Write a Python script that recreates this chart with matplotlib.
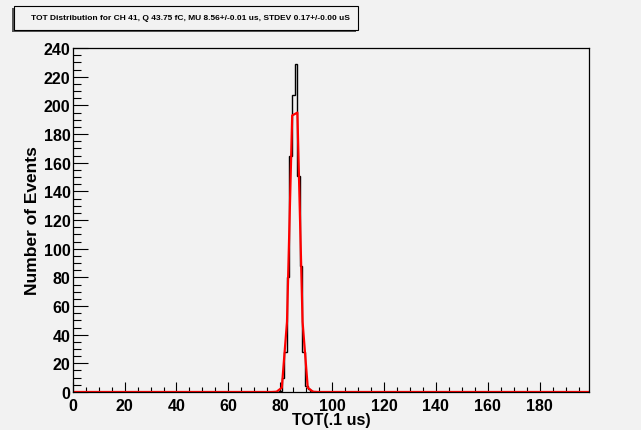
import numpy as np
import matplotlib.pyplot as plt
from matplotlib.patches import Rectangle
from matplotlib.ticker import MultipleLocator

# Histogram contents (bins centred on integer TOT values, 0..199)
peak_bins = [79, 80, 81, 82, 83, 84, 85, 86, 87, 88, 89, 90, 91, 92, 93]
peak_counts = [0, 1, 10, 28, 80, 165, 207, 229, 151, 88, 28, 4, 2, 1, 0]

# Fit curve as drawn (sampled points)
fit_x = [0.6, 76.6, 78.6, 80.6, 82.6, 84.6, 86.6, 88.6, 90.6, 92.6, 94.6, 198.6]
fit_y = [0, 0, 0.2, 3, 49, 193, 195, 49, 3, 0.2, 0, 0]

title = "TOT Distribution for CH 41, Q 43.75 fC, MU 8.56+/-0.01 us, STDEV 0.17+/-0.00 uS"
bg = '#f2f2f2'

counts = np.zeros(200)
counts[peak_bins] = peak_counts
edges = np.arange(201) - 0.5

fig = plt.figure(figsize=(6.41, 4.31), dpi=100, facecolor=bg)
ax = fig.add_axes([0.1134, 0.0882, 0.8055, 0.7978], facecolor=bg)

ax.stairs(counts, edges, color='black', linewidth=1.0)
ax.plot(fit_x, fit_y, color='red', linewidth=1.6)

ax.set_xlim(0, 199)
ax.set_ylim(0, 240)

ax.xaxis.set_major_locator(MultipleLocator(20))
ax.xaxis.set_minor_locator(MultipleLocator(5))
ax.yaxis.set_major_locator(MultipleLocator(20))
ax.yaxis.set_minor_locator(MultipleLocator(5))
ax.tick_params(which='both', direction='in', top=False, right=False, width=0.8)
ax.tick_params(axis='x', which='major', length=7.5, pad=4)
ax.tick_params(axis='x', which='minor', length=3.8)
ax.tick_params(axis='y', which='major', length=11, pad=1.5)
ax.tick_params(axis='y', which='minor', length=5.5)
for lab in ax.get_xticklabels() + ax.get_yticklabels():
    lab.set_fontweight('bold')
    lab.set_fontsize(11.5)
    lab.set_family('Liberation Sans')
for s in ax.spines.values():
    s.set_linewidth(0.9)

ax.set_xlabel('TOT(.1 us)', fontsize=11.5, fontweight='bold', family='Liberation Sans', labelpad=-0.5)
ax.set_ylabel('Number of Events', fontsize=12.5, fontweight='bold', family='Liberation Sans', labelpad=3)

# Title box with shadow
fig.patches.append(Rectangle((12 / 641, 1 - 32.5 / 431), 344 / 641, 23.5 / 431,
                             transform=fig.transFigure, facecolor='#555555', edgecolor='none'))
fig.patches.append(Rectangle((14 / 641, 1 - 30.5 / 431), 344 / 641, 23.5 / 431,
                             transform=fig.transFigure, facecolor=bg, edgecolor='black', linewidth=0.8))
fig.text(190 / 641, 1 - 19 / 431, title, ha='center', va='center', fontsize=6.05,
         fontweight='bold', family='Liberation Sans')

fig.savefig('out.png', dpi=100, facecolor=bg)
